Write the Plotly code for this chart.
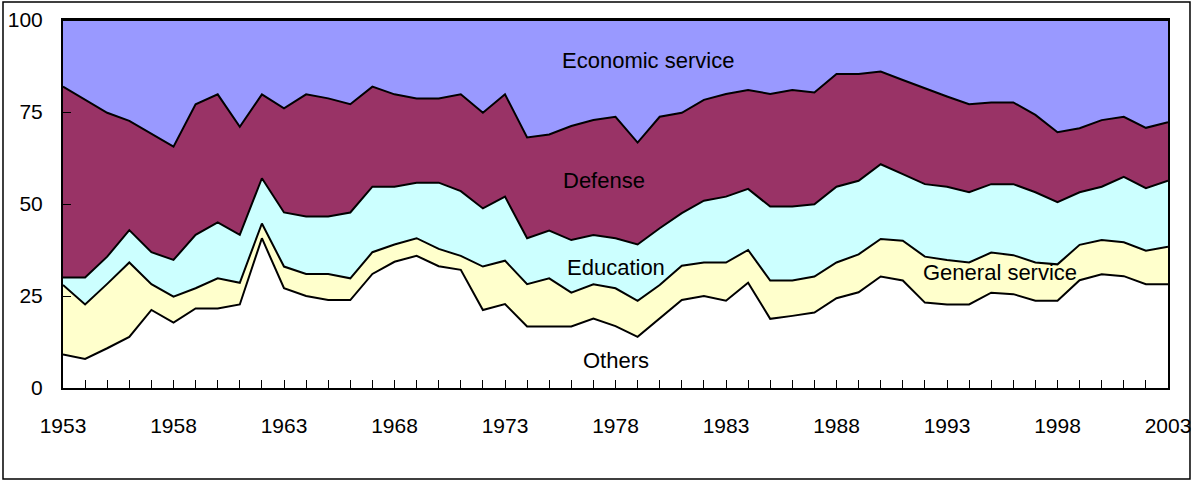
import plotly.graph_objects as go

years = list(range(1953, 2004))

others = [9.1, 7.9, 10.8, 13.9, 21.2, 17.8, 21.6, 21.6, 22.7, 40.7,
          27.1, 25.0, 23.9, 23.9, 31.0, 34.3, 35.9, 33.1, 32.1, 21.2,
          22.8, 16.7, 16.7, 16.7, 18.9, 16.8, 13.9, 18.9, 23.9, 25.0,
          23.7, 28.6, 18.8, 19.6, 20.5, 24.4, 26.0, 30.3, 29.2, 23.2,
          22.7, 22.7, 25.9, 25.5, 23.7, 23.7, 29.3, 30.9, 30.4, 28.2,
          28.2]
general = [18.9, 14.8, 17.5, 20.2, 7.0, 7.0, 5.5, 8.2, 5.9, 4.0,
           5.9, 6.0, 7.1, 5.9, 5.9, 4.7, 4.8, 4.7, 3.8, 11.8,
           11.8, 11.5, 13.1, 9.2, 9.3, 10.3, 9.8, 9.1, 9.3, 9.1,
           10.4, 8.9, 10.4, 9.6, 9.8, 9.7, 10.3, 10.2, 10.8, 12.5,
           12.1, 11.4, 10.9, 10.6, 10.4, 9.9, 9.6, 9.3, 9.2, 9.1,
           10.2]
education = [2.0, 7.3, 7.4, 8.8, 8.7, 10.0, 14.5, 15.2, 13.0, 12.3,
             14.7, 15.6, 15.6, 17.9, 17.8, 15.7, 15.1, 18.0, 17.6, 15.8,
             17.4, 12.5, 13.0, 14.3, 13.4, 13.6, 15.3, 15.4, 14.3, 16.8,
             17.9, 16.6, 20.1, 20.1, 19.6, 20.6, 20.0, 20.3, 18.1, 19.7,
             19.9, 19.1, 18.6, 19.3, 19.1, 16.9, 14.3, 14.5, 17.8, 17.0,
             17.9]
defense = [51.9, 48.4, 39.1, 29.7, 32.1, 30.8, 35.5, 34.8, 29.4, 22.8,
           28.3, 33.2, 32.1, 29.4, 27.2, 25.1, 22.9, 22.9, 26.3, 26.0,
           27.8, 27.4, 26.1, 31.0, 31.2, 33.0, 27.7, 30.3, 27.3, 27.4,
           27.9, 26.9, 30.6, 31.7, 30.4, 30.6, 29.0, 25.2, 25.6, 26.0,
           24.5, 23.9, 22.2, 22.2, 21.0, 19.0, 17.4, 18.1, 16.3, 16.4,
           15.9]
economic = [round(100 - (o + g + e + d), 1) for o, g, e, d in zip(others, general, education, defense)]

series_names = ["Others", "General service", "Education", "Defense", "Economic service"]
series_values = [others, general, education, defense, economic]
series_colors = ["#FFFFFF", "#FFFFCC", "#CCFFFF", "#993366", "#9999FF"]

x_ticks = [1953, 1958, 1963, 1968, 1973, 1978, 1983, 1988, 1993, 1998, 2003]
y_ticks = [0, 25, 50, 75, 100]

fig = go.Figure()
for name, vals, col in zip(series_names, series_values, series_colors):
    fig.add_trace(go.Scatter(
        x=years, y=vals, name=name, mode="lines",
        stackgroup="one", line=dict(color="black", width=2),
        fillcolor=col, hoverinfo="x+y+name",
    ))

font = "Liberation Sans, Arial, sans-serif"
labels = [
    ("Economic service", 1979.47, 89.0),
    ("Defense", 1977.5, 56.3),
    ("Education", 1978.0, 32.8),
    ("General service", 1995.4, 31.4),
    ("Others", 1978.0, 7.5),
]
for txt, xx, yy in labels:
    fig.add_annotation(x=xx, y=yy, text=txt, showarrow=False,
                       font=dict(family=font, size=22, color="black"))

fig.add_shape(type="rect", xref="paper", yref="paper",
              x0=-0.0543, x1=1.0199, y0=-0.2473, y1=1.0489,
              line=dict(color="black", width=1.5), layer="above")

fig.update_layout(
    width=1192, height=482,
    margin=dict(l=63, r=24, t=20, b=94, autoexpand=False),
    paper_bgcolor="white", plot_bgcolor="white",
    showlegend=False,
    font=dict(family=font, size=21, color="black"),
    xaxis=dict(range=[1953, 2003], tickvals=x_ticks, ticks="inside", ticklen=8,
               tickwidth=1, tickcolor="black", automargin=False,
               minor=dict(dtick=1, ticks="inside", ticklen=8, tickwidth=1, tickcolor="black"),
               showgrid=False, zeroline=False, showline=True, linecolor="black",
               linewidth=2, mirror=True, ticklabelstandoff=18,
               tickfont=dict(size=21)),
    yaxis=dict(range=[0, 100], tickvals=y_ticks, ticks="inside", ticklen=8,
               tickwidth=1, tickcolor="black", automargin=False,
               showgrid=False, zeroline=False, showline=True, linecolor="black",
               linewidth=2, mirror=True, ticklabelstandoff=14,
               tickfont=dict(size=21)),
)

fig.write_html("out.html", config={"displayModeBar": False},
               post_script="document.body.style.margin='0';document.body.style.overflow='hidden';")
